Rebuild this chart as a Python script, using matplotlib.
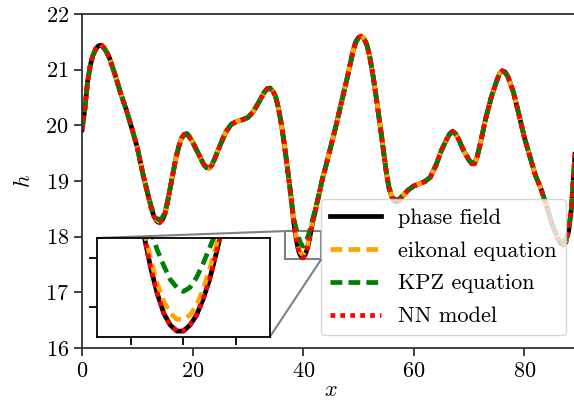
import numpy as np
import matplotlib
matplotlib.use("Agg")
import matplotlib.pyplot as plt
from mpl_toolkits.axes_grid1.inset_locator import mark_inset

plt.rcParams['font.family'] = 'cmr10'
plt.rcParams['mathtext.fontset'] = 'cm'
plt.rcParams['axes.formatter.use_mathtext'] = True
plt.rcParams['font.size'] = 16

# positions along the front
x_vals = [0, 0.5, 1, 1.5, 2, 2.5, 3, 3.5, 4, 4.5,
          5, 5.5, 6, 7, 8, 9, 10, 11, 12, 12.5,
          13, 13.5, 14, 14.5, 15, 15.5, 16, 16.5, 17, 17.5,
          18, 18.5, 19, 19.5, 20, 21, 22, 22.5, 23, 23.5,
          24, 25, 26, 27, 28, 29, 30, 31, 32, 33,
          33.5, 34, 34.5, 35, 35.5, 36, 36.5, 37, 37.5, 37.75,
          38, 38.25, 38.5, 38.75, 39, 39.25, 39.5, 39.75, 40, 40.25,
          40.5, 40.75, 41, 41.25, 41.5, 41.75, 42, 42.5, 43, 43.5,
          44, 45, 46, 47, 48, 49, 49.5, 50, 50.5, 51,
          51.5, 52, 52.5, 53, 54, 55, 55.5, 56, 56.5, 57,
          57.5, 58, 59, 60, 61, 62, 63, 64, 65, 66,
          66.5, 67, 67.5, 68, 69, 70, 70.5, 71, 71.5, 72,
          73, 74, 75, 75.5, 76, 76.5, 77, 78, 79, 80,
          81, 82, 83, 84, 85, 86, 86.5, 87, 87.5, 88,
          88.5, 89, 89.5, 90]

h_phase = [19.92, 20.28, 20.78, 21.08, 21.27, 21.38, 21.43, 21.44, 21.39, 21.31,
           21.2, 21.05, 20.9, 20.57, 20.28, 19.95, 19.6, 19.13, 18.72, 18.52,
           18.37, 18.28, 18.25, 18.3, 18.41, 18.64, 18.9, 19.17, 19.42, 19.62,
           19.77, 19.84, 19.85, 19.78, 19.7, 19.5, 19.3, 19.24, 19.23, 19.29,
           19.4, 19.65, 19.88, 20.02, 20.07, 20.1, 20.14, 20.25, 20.42, 20.6,
           20.66, 20.67, 20.62, 20.52, 20.32, 20.05, 19.72, 19.35, 18.95, 18.75,
           18.52, 18.29, 18.11, 17.95, 17.82, 17.72, 17.66, 17.63, 17.63, 17.66,
           17.71, 17.79, 17.89, 18.02, 18.16, 18.28, 18.38, 18.6, 18.82, 19.05,
           19.23, 19.62, 20.02, 20.45, 20.87, 21.33, 21.5, 21.58, 21.6, 21.56,
           21.45, 21.25, 20.97, 20.65, 19.93, 19.18, 18.88, 18.72, 18.64, 18.63,
           18.67, 18.73, 18.84, 18.91, 18.95, 18.99, 19.07, 19.28, 19.55, 19.76,
           19.85, 19.89, 19.86, 19.77, 19.55, 19.37, 19.31, 19.31, 19.45, 19.66,
           20.12, 20.5, 20.8, 20.93, 20.98, 20.96, 20.88, 20.6, 20.2, 19.78,
           19.44, 19.1, 18.86, 18.55, 18.22, 17.97, 17.88, 17.85, 17.9, 18.1,
           18.5, 19.25, 20.0, 20.7]

h_eikonal = [19.92, 20.28, 20.78, 21.08, 21.27, 21.38, 21.43, 21.45, 21.4, 21.31,
             21.2, 21.05, 20.9, 20.57, 20.28, 19.95, 19.6, 19.13, 18.72, 18.53,
             18.38, 18.3, 18.27, 18.31, 18.42, 18.64, 18.9, 19.17, 19.42, 19.62,
             19.77, 19.84, 19.85, 19.78, 19.7, 19.5, 19.3, 19.24, 19.23, 19.29,
             19.4, 19.65, 19.88, 20.02, 20.07, 20.1, 20.14, 20.25, 20.42, 20.6,
             20.66, 20.67, 20.62, 20.52, 20.32, 20.05, 19.72, 19.35, 18.95, 18.75,
             18.52, 18.3, 18.14, 17.99, 17.87, 17.78, 17.72, 17.69, 17.69, 17.71,
             17.76, 17.84, 17.94, 18.06, 18.19, 18.3, 18.39, 18.6, 18.82, 19.05,
             19.23, 19.62, 20.02, 20.45, 20.87, 21.33, 21.5, 21.58, 21.61, 21.56,
             21.45, 21.25, 20.97, 20.65, 19.93, 19.18, 18.88, 18.73, 18.65, 18.64,
             18.68, 18.73, 18.84, 18.91, 18.95, 18.99, 19.07, 19.28, 19.55, 19.76,
             19.85, 19.89, 19.86, 19.77, 19.55, 19.37, 19.32, 19.32, 19.45, 19.66,
             20.12, 20.5, 20.8, 20.93, 20.98, 20.96, 20.88, 20.6, 20.2, 19.78,
             19.44, 19.1, 18.86, 18.55, 18.22, 17.98, 17.9, 17.87, 17.92, 18.11,
             18.5, 19.25, 20.0, 20.7]

h_kpz = [19.92, 20.28, 20.78, 21.08, 21.26, 21.36, 21.41, 21.42, 21.38, 21.3,
         21.2, 21.05, 20.9, 20.57, 20.28, 19.95, 19.6, 19.13, 18.73, 18.55,
         18.41, 18.33, 18.3, 18.34, 18.44, 18.65, 18.9, 19.17, 19.42, 19.62,
         19.77, 19.83, 19.84, 19.78, 19.7, 19.5, 19.3, 19.25, 19.25, 19.3,
         19.4, 19.65, 19.88, 20.02, 20.07, 20.1, 20.14, 20.25, 20.42, 20.6,
         20.65, 20.66, 20.61, 20.52, 20.32, 20.05, 19.72, 19.35, 18.96, 18.77,
         18.54, 18.38, 18.24, 18.14, 18.04, 17.96, 17.89, 17.85, 17.83, 17.85,
         17.9, 17.97, 18.05, 18.13, 18.23, 18.33, 18.42, 18.62, 18.83, 19.05,
         19.23, 19.62, 20.02, 20.45, 20.87, 21.32, 21.49, 21.57, 21.59, 21.55,
         21.45, 21.25, 20.97, 20.65, 19.93, 19.18, 18.89, 18.75, 18.67, 18.66,
         18.69, 18.74, 18.84, 18.91, 18.95, 18.99, 19.07, 19.28, 19.55, 19.76,
         19.84, 19.88, 19.85, 19.77, 19.55, 19.38, 19.33, 19.33, 19.46, 19.66,
         20.12, 20.5, 20.8, 20.92, 20.97, 20.95, 20.88, 20.6, 20.2, 19.78,
         19.44, 19.1, 18.86, 18.56, 18.24, 18.01, 17.94, 17.91, 17.95, 18.13,
         18.5, 19.25, 20.0, 20.7]

# the NN model sits on the phase field curve
h_nn = list(h_phase)

series = [
    (h_phase, 'phase field', dict(color='black', ls='-')),
    (h_eikonal, 'eikonal equation', dict(color='orange', ls=(0, (2.5, 1.3)))),
    (h_kpz, 'KPZ equation', dict(color='green', ls=(0, (2.5, 1.3)))),
    (h_nn, 'NN model', dict(color='red', ls=(0, (1, 1.1)))),
]

fig = plt.figure(figsize=(5.74, 4.0), dpi=100)
ax = fig.add_axes([0.1429, 0.13, 0.867, 0.835])

for h, lab, st in series:
    ax.plot(x_vals, h, lw=3.4, label=lab, **st)

ax.set_xlim(0, 90)
ax.set_ylim(16, 22)
ax.set_xticks([0, 20, 40, 60, 80])
ax.set_yticks([16, 17, 18, 19, 20, 21, 22])
ax.spines['right'].set_visible(False)
for s in ['left', 'bottom', 'top']:
    ax.spines[s].set_linewidth(1.3)
    ax.spines[s].set_color('#333333')
ax.tick_params(length=6, width=1.3, color='#333333')
ax.set_xlabel('$x$', labelpad=0)
ax.set_ylabel('$h$', labelpad=8)

ax.legend(loc='lower right', bbox_to_anchor=(0.986, 0.162),
          bbox_transform=fig.transFigure, borderaxespad=0,
          fontsize=16, handlelength=2.3, labelspacing=0.6,
          framealpha=0.8, edgecolor='#cccccc')

# zoomed inset around the deepest dip
axins = fig.add_axes([0.169, 0.1575, 0.301, 0.2475])
for h, lab, st in series:
    axins.plot(x_vals, h, lw=3.4, **st)
axins.set_xlim(36.7, 43.3)
axins.set_ylim(17.6, 18.1)
axins.set_xticks([38, 40, 42])
axins.set_yticks([17.75, 18.0])
axins.set_xticklabels([])
axins.set_yticklabels([])
for s in axins.spines.values():
    s.set_linewidth(1.3)
axins.tick_params(length=6, width=1.3)

mark_inset(ax, axins, loc1=2, loc2=4, fc='none', ec='0.5', lw=1.5)

fig.savefig('out.png', dpi=100)
